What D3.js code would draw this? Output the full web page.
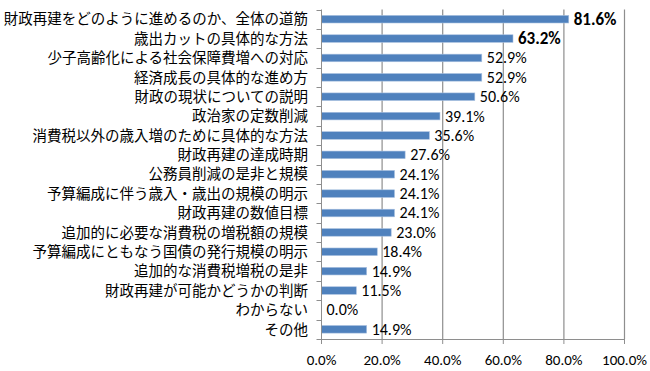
<!DOCTYPE html>
<html><head><meta charset="utf-8">
<script src="https://cdn.jsdelivr.net/npm/d3@7"></script>
<style>body{margin:0;background:#fff}svg{display:block}</style>
</head><body>
<script>
const categories = ["財政再建をどのように進めるのか、全体の道筋","歳出カットの具体的な方法","少子高齢化による社会保障費増への対応","経済成長の具体的な進め方","財政の現状についての説明","政治家の定数削減","消費税以外の歳入増のために具体的な方法","財政再建の達成時期","公務員削減の是非と規模","予算編成に伴う歳入・歳出の規模の明示","財政再建の数値目標","追加的に必要な消費税の増税額の規模","予算編成にともなう国債の発行規模の明示","追加的な消費税増税の是非","財政再建が可能かどうかの判断","わからない","その他"];
const values = [81.6,63.2,52.9,52.9,50.6,39.1,35.6,27.6,24.1,24.1,24.1,23.0,18.4,14.9,11.5,0.0,14.9];
const boldIdx = [0,1];
const ticks = [0,20,40,60,80,100];

const W=650,H=371;
const pL=321.5,pR=624.5,pT=9.5,pB=339;
const svg=d3.select("body").append("svg").attr("width",W).attr("height",H);
const x=d3.scaleLinear().domain([0,100]).range([pL,pR]);
const yb=d3.scaleBand().domain(categories).range([pT,pB]);
const font="'Noto Sans CJK JP','Noto Sans',sans-serif";
const nfont="Carlito,Calibri,'Liberation Sans',sans-serif";
const gridC="#8e8e8e";

// gridlines
svg.append("g").selectAll("line").data(ticks.slice(1)).join("line")
 .attr("x1",d=>x(d)).attr("x2",d=>x(d))
 .attr("y1",pT).attr("y2",pB).attr("stroke",gridC).attr("stroke-width",1.2);

// bars
svg.append("g").selectAll("rect").data(values).join("rect")
 .attr("x",pL).attr("y",(d,i)=>yb(categories[i])+yb.bandwidth()/2-3.8)
 .attr("width",d=>x(d)-pL).attr("height",7.6)
 .attr("fill","#4f81bd").attr("stroke","#a9c1e0").attr("stroke-width",d=>d>0?0.6:0);

// axis lines and ticks
svg.append("line").attr("x1",pL).attr("x2",pL).attr("y1",pT).attr("y2",pB+5).attr("stroke",gridC);
svg.append("line").attr("x1",pL).attr("x2",pR).attr("y1",pB+0.5).attr("y2",pB+0.5).attr("stroke",gridC);
const bounds=categories.map(c=>yb(c)).concat([pB]);
svg.append("g").selectAll("line").data(bounds).join("line")
 .attr("x1",pL-5).attr("x2",pL).attr("y1",d=>Math.round(d)+0.5).attr("y2",d=>Math.round(d)+0.5).attr("stroke",gridC);
svg.append("g").selectAll("line").data(ticks).join("line")
 .attr("x1",d=>x(d)).attr("x2",d=>x(d))
 .attr("y1",pB).attr("y2",pB+5).attr("stroke",gridC);

// category labels
svg.append("g").selectAll("text").data(categories).join("text")
 .attr("x",308).attr("y",d=>yb(d)+yb.bandwidth()/2).attr("dy","0.36em")
 .attr("text-anchor","end").attr("font-family",font).attr("font-size",14.5).attr("fill","#000")
 .text(d=>d);

// value labels
svg.append("g").selectAll("text").data(values).join("text")
 .attr("x",d=>x(d)+5).attr("y",(d,i)=>yb(categories[i])+yb.bandwidth()/2).attr("dy","0.34em")
 .attr("font-family",nfont).attr("font-size",(d,i)=>boldIdx.includes(i)?17:16)
 .attr("font-weight",(d,i)=>boldIdx.includes(i)?"bold":"normal").attr("fill","#000")
 .text(d=>d.toFixed(1)+"%");

// x tick labels
svg.append("g").selectAll("text").data(ticks).join("text")
 .attr("x",d=>x(d)).attr("y",360).attr("dy","0.34em").attr("text-anchor","middle")
 .attr("font-family",nfont).attr("font-size",15).attr("fill","#000")
 .text(d=>d.toFixed(1)+"%");
</script>
</body></html>
